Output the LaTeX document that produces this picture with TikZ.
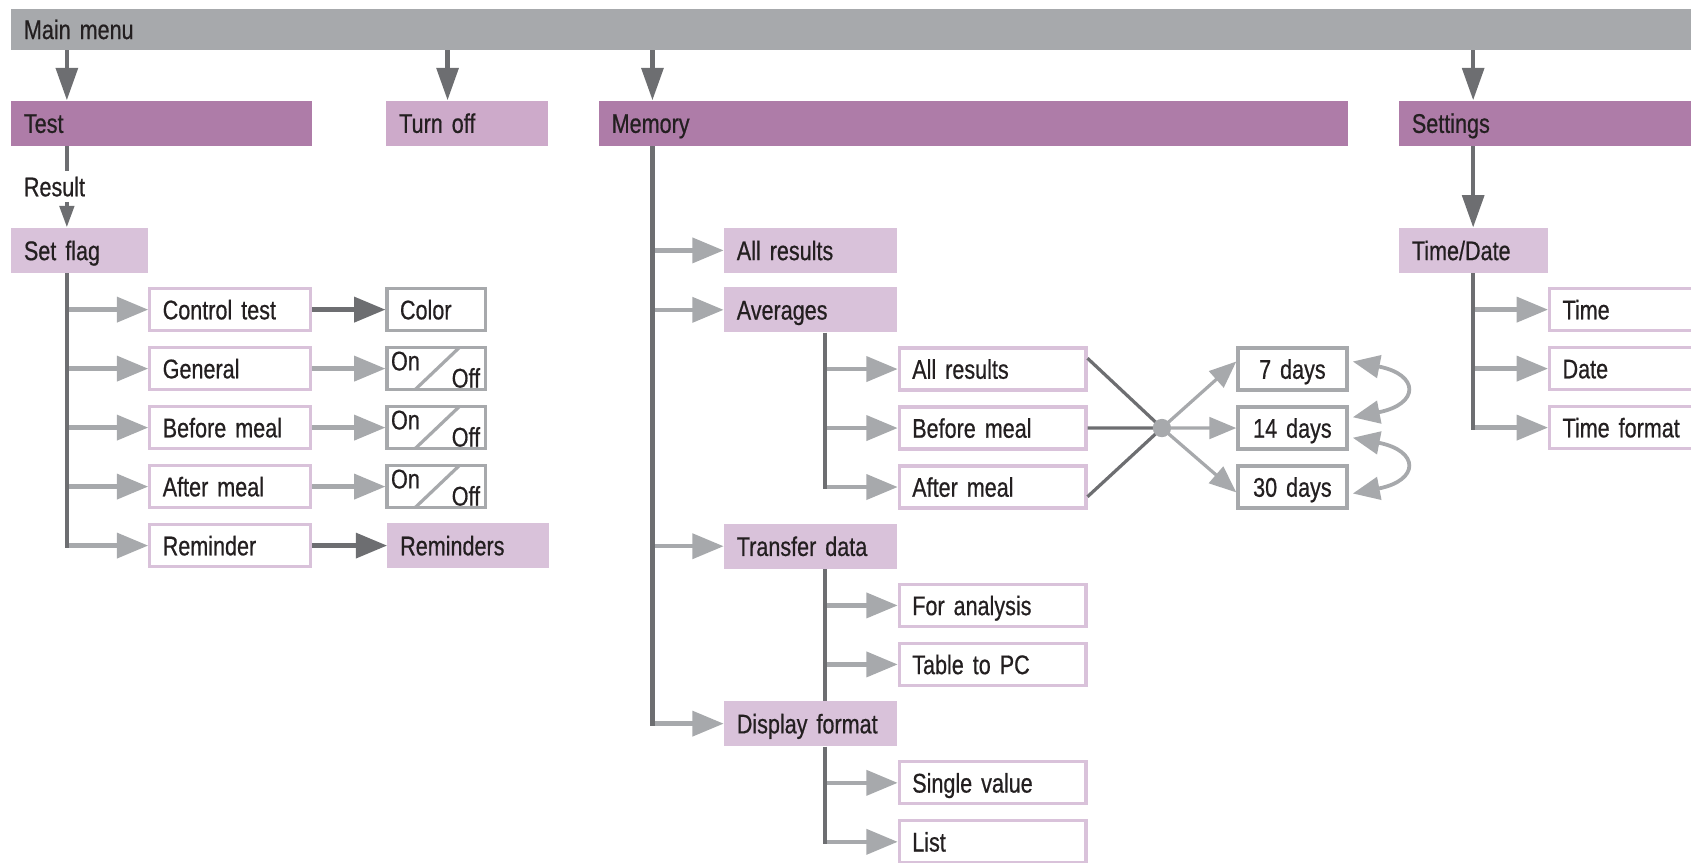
\documentclass[tikz,border=0pt]{standalone}
\usepackage{fontspec}
\setmainfont[FakeStretch=0.8, FakeBold=0.6, WordSpace=0.6]{Liberation Sans}
\usepackage{tikz}
\usetikzlibrary{
    positioning, % For placing nodes relative to each other
    arrows.meta, % For the triangle arrow tips
    calc         % For coordinate calculations
}

\definecolor{MenuGray}{HTML}{A7A9AC}
\definecolor{LineDark}{HTML}{6D6E71}
\definecolor{PlumDark}{HTML}{AE7CA8}
\definecolor{PlumMid}{HTML}{CDAACA}
\definecolor{PlumLight}{HTML}{D9C2DA}
\definecolor{TextDark}{HTML}{231F20}

\newcommand{\menufont}{\fontsize{25}{30}\selectfont}
\newcommand{\switchfont}{\fontsize{25}{28}\selectfont}

\tikzset{
    % Common look of every entry
    menu_base/.style={
        rectangle, inner xsep=12pt, inner ysep=0pt, minimum height=42pt,
        text height=20pt, text depth=2pt, align=left, font=\menufont, text=TextDark
    },
    % The grey bar at the top
    menu_bar/.style={menu_base, fill=MenuGray, minimum height=38pt},
    % Main entries of the menu
    main_node/.style={menu_base, fill=PlumDark},
    % An entry that is a single action
    action_node/.style={menu_base, fill=PlumMid},
    % A sub menu
    submenu_node/.style={menu_base, fill=PlumLight},
    % A setting inside a sub menu
    option_node/.style={menu_base, draw=PlumLight, line width=3pt, fill=white, minimum height=39pt},
    % A value that can be picked
    value_node/.style={menu_base, draw=MenuGray, line width=3pt, fill=white, minimum height=39pt},
    % A value box split into On and Off
    switch_text/.style={font=\switchfont, text=TextDark},
    switch_node/.style={
        value_node, minimum width=91pt,
        path picture={
            \draw[MenuGray, line width=3pt]
                ($(path picture bounding box.south west)+(26,0)$) --
                ($(path picture bounding box.north west)+(67,0)$);
        },
        label={[switch_text, anchor=north west, inner xsep=5pt, inner ysep=5pt]north west:On},
        label={[switch_text, anchor=south east, inner xsep=6pt, inner ysep=3pt]south east:Off}
    },
    % Plain text on a connector
    plain_label/.style={menu_base, minimum height=0pt, inner ysep=3pt},
    % The junction of the averages
    hub_dot/.style={circle, fill=MenuGray, inner sep=0pt, minimum size=17pt},
    % Line and arrow styles
    trunk_line/.style={draw=LineDark, line width=4pt},
    main_arrow/.style={draw=LineDark, line width=4pt, -{Triangle[length=30pt, width=20pt]}},
    result_arrow/.style={draw=LineDark, line width=4pt, -{Triangle[length=20pt, width=13pt]}},
    branch_arrow/.style={draw=MenuGray, line width=4pt, -{Triangle[length=29pt, width=23pt]}},
    pick_arrow/.style={draw=LineDark, line width=4pt, -{Triangle[length=29pt, width=23pt]}},
    merge_line/.style={draw=LineDark, line width=3pt},
    spread_arrow/.style={draw=MenuGray, line width=3pt, -{Triangle[length=25pt, width=20pt]}},
    swap_arrow/.style={draw=MenuGray, line width=3.5pt,
        {Triangle[length=25pt, width=21pt]}-{Triangle[length=25pt, width=21pt]}}
}

\begin{document}
\begin{tikzpicture}[x=1pt, y=-1pt]
\useasboundingbox (0,0) rectangle (1568,800);
\clip (0,0) rectangle (1568,800);

% --- MAIN MENU ---
\node[menu_bar, text width=1566pt, anchor=north west] (main_menu) at (10,8) {Main menu};

\node[main_node, text width=255pt, anchor=north west] (test) at (10,93) {Test};
\node[action_node, text width=126pt, anchor=north west] (turn_off) at (358,93) {Turn off};
\node[main_node, text width=671pt, anchor=north west] (memory) at (555,93) {Memory};
\node[main_node, text width=300pt, anchor=north west] (settings) at (1297,93) {Settings};

\coordinate (test_in) at ($(test.north west)+(52,0)$);
\coordinate (turn_off_in) at ($(turn_off.north west)+(57,0)$);
\coordinate (memory_in) at ($(memory.north west)+(50,0)$);
\coordinate (settings_in) at ($(settings.north west)+(69,0)$);
\draw[main_arrow] (main_menu.south -| test_in) -- (test_in);
\draw[main_arrow] (main_menu.south -| turn_off_in) -- (turn_off_in);
\draw[main_arrow] (main_menu.south -| memory_in) -- (memory_in);
\draw[main_arrow] (main_menu.south -| settings_in) -- (settings_in);

% --- TEST ---
\node[plain_label, anchor=west] (result) at (10,173) {Result};
\node[submenu_node, text width=103pt, anchor=north west] (set_flag) at (10,211) {Set flag};
\coordinate (test_out) at ($(test.south west)+(52,0)$);
\draw[trunk_line] (test_out) -- (result.north -| test_out);
\draw[result_arrow] (result.south -| test_out) -- (set_flag.north -| test_out);

\node[option_node, text width=125pt, below right=12.7pt and 0pt of set_flag] (control_test) {Control test};
\node[option_node, text width=125pt, below=12.7pt of control_test] (general) {General};
\node[option_node, text width=125pt, below=12.7pt of general] (before_meal) {Before meal};
\node[option_node, text width=125pt, below=12.7pt of before_meal] (after_meal) {After meal};
\node[option_node, text width=125pt, below=12.7pt of after_meal] (reminder) {Reminder};

\node[value_node, text width=67pt, right=68pt of control_test] (color) {Color};
\node[switch_node, right=68pt of general] (general_switch) {};
\node[switch_node, right=68pt of before_meal] (before_switch) {};
\node[switch_node, right=68pt of after_meal] (after_switch) {};
\node[submenu_node, text width=126pt, right=69.5pt of reminder] (reminders) {Reminders};

\coordinate (flag_trunk) at ($(set_flag.south west)+(52,0)$);
\draw[branch_arrow] (flag_trunk |- control_test.west) -- (control_test.west);
\draw[branch_arrow] (flag_trunk |- general.west) -- (general.west);
\draw[branch_arrow] (flag_trunk |- before_meal.west) -- (before_meal.west);
\draw[branch_arrow] (flag_trunk |- after_meal.west) -- (after_meal.west);
\draw[branch_arrow] (flag_trunk |- reminder.west) -- (reminder.west);
\draw[trunk_line, shorten >=-2pt] (flag_trunk) -- (flag_trunk |- reminder.west);

\draw[pick_arrow] (control_test) -- (color);
\draw[branch_arrow] (general) -- (general_switch);
\draw[branch_arrow] (before_meal) -- (before_switch);
\draw[branch_arrow] (after_meal) -- (after_switch);
\draw[pick_arrow] (reminder) -- (reminders);

% --- MEMORY ---
\node[submenu_node, text width=137pt, anchor=north west] (all_results) at (671,211) {All results};
\node[submenu_node, text width=137pt, below=12.7pt of all_results] (averages) {Averages};
\node[option_node, text width=149pt, below right=12.7pt and 0pt of averages] (avg_all) {All results};
\node[option_node, text width=149pt, below=12.7pt of avg_all] (avg_before) {Before meal};
\node[option_node, text width=149pt, below=12.7pt of avg_before] (avg_after) {After meal};
\node[submenu_node, text width=137pt, below left=12.7pt and 0pt of avg_after] (transfer_data) {Transfer data};
\node[option_node, text width=149pt, below right=12.7pt and 0pt of transfer_data] (for_analysis) {For analysis};
\node[option_node, text width=149pt, below=12.7pt of for_analysis] (table_pc) {Table to PC};
\node[submenu_node, text width=137pt, below left=12.7pt and 0pt of table_pc] (display_format) {Display format};
\node[option_node, text width=149pt, below right=12.7pt and 0pt of display_format] (single_value) {Single value};
\node[option_node, text width=149pt, below=12.7pt of single_value] (list) {List};

\coordinate (memory_trunk) at ($(memory.south west)+(50,0)$);
\draw[branch_arrow] (memory_trunk |- all_results.west) -- (all_results.west);
\draw[branch_arrow] (memory_trunk |- averages.west) -- (averages.west);
\draw[branch_arrow] (memory_trunk |- transfer_data.west) -- (transfer_data.west);
\draw[branch_arrow] (memory_trunk |- display_format.west) -- (display_format.west);
\draw[trunk_line, shorten >=-2pt] (memory_trunk) -- (memory_trunk |- display_format.west);

\coordinate (avg_trunk) at ($(averages.south west)+(94,0)$);
\draw[branch_arrow] (avg_trunk |- avg_all.west) -- (avg_all.west);
\draw[branch_arrow] (avg_trunk |- avg_before.west) -- (avg_before.west);
\draw[branch_arrow] (avg_trunk |- avg_after.west) -- (avg_after.west);
\draw[trunk_line, shorten >=-2pt] (avg_trunk) -- (avg_trunk |- avg_after.west);

\coordinate (transfer_trunk) at ($(transfer_data.south west)+(94,0)$);
\draw[branch_arrow] (transfer_trunk |- for_analysis.west) -- (for_analysis.west);
\draw[branch_arrow] (transfer_trunk |- table_pc.west) -- (table_pc.west);
\draw[trunk_line] (transfer_trunk) -- (transfer_trunk |- display_format.north);

\coordinate (display_trunk) at ($(display_format.south west)+(94,0)$);
\draw[branch_arrow] (display_trunk |- single_value.west) -- (single_value.west);
\draw[branch_arrow] (display_trunk |- list.west) -- (list.west);
\draw[trunk_line, shorten >=-2pt] (display_trunk) -- (display_trunk |- list.west);

% Averages over days
\node[value_node, text width=77pt, align=center, right=138pt of avg_all] (days_7) {7 days};
\node[value_node, text width=77pt, align=center, right=138pt of avg_before] (days_14) {14 days};
\node[value_node, text width=77pt, align=center, right=138pt of avg_after] (days_30) {30 days};

\coordinate (hub_point) at ($(avg_before.east)!0.5!(days_14.west)$);
\draw[merge_line] ($(avg_all.east)+(0,-10)$) -- (hub_point);
\draw[merge_line] (avg_before) -- (hub_point);
\draw[merge_line] ($(avg_after.east)+(0,9)$) -- (hub_point);
\draw[spread_arrow] (hub_point) -- ($(days_7.west)+(0,-7)$);
\draw[spread_arrow] (hub_point) -- (days_14);
\draw[spread_arrow] (hub_point) -- ($(days_30.west)+(0,5)$);
\node[hub_dot] (avg_hub) at (hub_point) {};

\draw[swap_arrow] ($(days_7.east)+(4,-7)$) .. controls +(62,12) and +(62,-12) .. ($(days_14.east)+(4,-10)$);
\draw[swap_arrow] ($(days_14.east)+(4,9)$) .. controls +(62,12) and +(62,-12) .. ($(days_30.east)+(4,6)$);

% --- SETTINGS ---
\node[submenu_node, text width=114pt, anchor=north west] (time_date) at (1297,211) {Time/Date};
\coordinate (settings_out) at ($(settings.south west)+(69,0)$);
\draw[main_arrow] (settings_out) -- (time_date.north -| settings_out);

\node[option_node, text width=160pt, below right=12.7pt and 0pt of time_date] (time) {Time};
\node[option_node, text width=160pt, below=12.7pt of time] (date) {Date};
\node[option_node, text width=160pt, below=12.7pt of date] (time_format) {Time format};

\coordinate (time_trunk) at ($(time_date.south west)+(69,0)$);
\draw[branch_arrow] (time_trunk |- time.west) -- (time.west);
\draw[branch_arrow] (time_trunk |- date.west) -- (date.west);
\draw[branch_arrow] (time_trunk |- time_format.west) -- (time_format.west);
\draw[trunk_line, shorten >=-2pt] (time_trunk) -- (time_trunk |- time_format.west);

\end{tikzpicture}
\end{document}
